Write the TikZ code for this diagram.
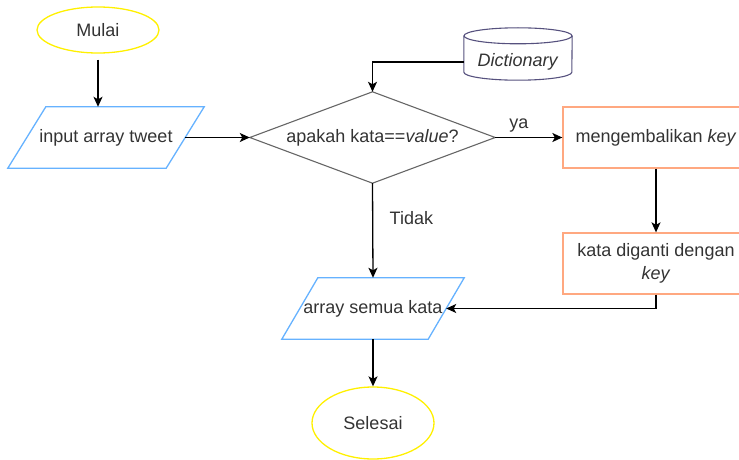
\documentclass[tikz,border=0pt]{standalone}
\usepackage{fontspec}
\setmainfont{Liberation Sans}
\usetikzlibrary{arrows.meta,shapes.geometric}

\definecolor{txtgray}{HTML}{333333}
\definecolor{termyellow}{HTML}{FFF000}
\definecolor{ioblue}{HTML}{66B2FF}
\definecolor{procorange}{HTML}{FFA880}
\definecolor{dbpurple}{HTML}{56517E}
\definecolor{decgray}{HTML}{666666}

\tikzset{
  x=1pt, y=-1pt,
  every node/.style={font=\fontsize{18}{23}\selectfont, text=txtgray},
  terminal/.style={ellipse, draw=termyellow, line width=1.3pt, minimum width=122pt, inner sep=0pt},
  iobox/.style={rectangle, inner sep=0pt, minimum height=61pt},
  iolines/.style={draw=ioblue, line width=1.3pt, line join=miter},
  procbox/.style={rectangle, draw=procorange, line width=1.3pt, minimum width=186pt, minimum height=61pt, inner sep=0pt, align=center},
  decbox/.style={rectangle, inner sep=0pt, minimum width=245pt, minimum height=91pt},
  declines/.style={draw=decgray, line width=1.1pt},
  dbbox/.style={rectangle, inner sep=0pt, minimum width=108pt, minimum height=36pt},
  dblines/.style={draw=dbpurple, line width=1.1pt},
  flow/.style={draw=black, line width=1.3pt, -{Stealth[length=10pt,width=9pt,inset=2.5pt]}},
  edgelabel/.style={text=txtgray}
}

\begin{document}
\begin{tikzpicture}
\clip (0,0) rectangle (739,460);

% terminals
\node[terminal, minimum height=46pt] (mulai) at (98,30) {Mulai};
\node[terminal, minimum height=72pt] (selesai) at (373,423) {Selesai};

% input / output parallelograms
\node[iobox, minimum width=158pt] (input) at (106,137.5) {input array tweet};
\draw[iolines] ([xshift=19pt]input.north west) -- ([xshift=19pt]input.north east)
  -- ([xshift=-19pt]input.south east) -- ([xshift=-19pt]input.south west) -- cycle;

\node[iobox, minimum width=146pt] (semua) at (373,308.5) {array semua kata};
\draw[iolines] ([xshift=18pt]semua.north west) -- ([xshift=18pt]semua.north east)
  -- ([xshift=-18pt]semua.south east) -- ([xshift=-18pt]semua.south west) -- cycle;

% decision
\node[decbox] (cek) at (372.5,137.5) {apakah kata==\textit{value}?};
\draw[declines] (cek.north) -- (cek.east) -- (cek.south) -- (cek.west) -- cycle;

% dictionary store
\node[dbbox] (dict) at (518,62) {\textit{Dictionary}};
\draw[dblines] ([yshift=8pt]dict.north west) -- ([yshift=8pt]dict.south west)
  arc[start angle=180, end angle=360, x radius=54pt, y radius=8pt]
  -- ([yshift=8pt]dict.north east);
\draw[dblines] ([yshift=8pt]dict.north) ellipse [x radius=54pt, y radius=8pt];

% processes
\node[procbox] (kembali) at (656,137.5) {mengembalikan \textit{key}};
\node[procbox] (ganti) at (656,263.5) {kata diganti dengan\\\textit{key}};

% connectors
\draw[flow, shorten <=6pt] (mulai.south) -- (mulai.south |- input.north);
\draw[flow] (input.east) -- (cek.west);
\draw[flow] (dict.west) -| (cek.north);
\draw[flow] (cek.east) -- node[edgelabel, above=1pt, xshift=-10pt] {ya} (kembali.west);
\draw[flow] (cek.south) -- node[edgelabel, right=13pt, pos=0.37] {Tidak} (semua.north);
\draw[flow] (kembali.south) -- (ganti.north);
\draw[flow] (ganti.south) |- (semua.east);
\draw[flow] (semua.south) -- (selesai.north);
\end{tikzpicture}
\end{document}
